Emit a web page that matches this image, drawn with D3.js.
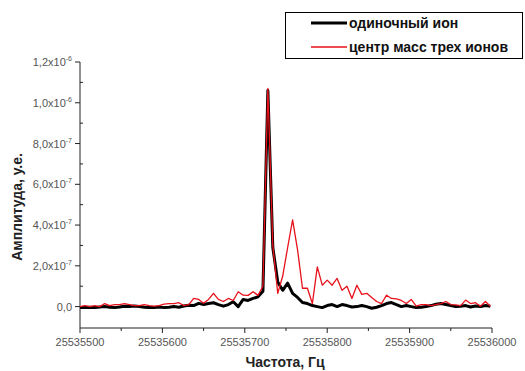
<!DOCTYPE html>
<html><head><meta charset="utf-8">
<script src="https://cdn.jsdelivr.net/npm/d3@7"></script>
<style>body{margin:0;background:#fff}svg{display:block}</style>
</head><body>
<svg id="c" width="525" height="371"></svg>
<script>
// Frequency, Hz
const freq = [25535500,25535506,25535512,25535518,25535524,25535530,25535536,25535542,25535548,25535554,
25535560,25535566,25535572,25535578,25535584,25535590,25535596,25535602,25535608,25535614,
25535620,25535626,25535632,25535638,25535644,25535650,25535656,25535662,25535668,25535674,
25535680,25535686,25535692,25535698,25535704,25535710,25535716,25535722,25535728,25535734,
25535740,25535746,25535752,25535758,25535764,25535770,25535776,25535782,25535788,25535794,
25535800,25535806,25535812,25535818,25535824,25535830,25535836,25535842,25535848,25535854,
25535860,25535866,25535872,25535878,25535884,25535890,25535896,25535902,25535908,25535914,
25535920,25535926,25535932,25535938,25535944,25535950,25535956,25535962,25535968,25535974,
25535980,25535986,25535992,25535998];
// amplitudes in units of 1e-7
const singleIon = [-0.05,-0.05,-0.03,-0.05,-0.02,0.0,-0.03,-0.05,-0.02,0.02,
0.0,0.03,0.0,-0.03,-0.05,-0.05,-0.02,-0.05,-0.03,0.0,
-0.03,0.03,0.07,0.05,0.16,0.1,0.15,0.19,0.1,0.02,
0.1,0.24,0.0,0.35,0.3,0.4,0.48,0.75,10.6,2.9,
1.2,0.8,1.15,0.65,0.45,0.2,0.15,0.05,0.0,-0.05,
0.05,0.1,0.0,0.1,0.05,-0.02,0.0,0.05,0.0,-0.08,
-0.03,0.05,0.15,0.2,0.1,0.0,0.05,0.0,-0.05,-0.03,
0.0,0.05,0.12,0.15,0.1,0.05,0.0,0.02,0.05,-0.02,
0.03,0.0,0.05,0.02];
const centerOfMass = [0.0,0.05,0.0,0.05,0.0,0.15,0.05,0.1,0.1,0.15,
0.1,0.05,0.05,0.1,0.05,0.02,0.05,0.12,0.15,0.15,
0.19,0.05,0.1,0.4,0.35,0.16,0.35,0.65,0.35,0.25,
0.4,0.3,0.73,0.56,0.55,0.73,0.55,1.0,10.7,3.0,
0.65,1.5,2.9,4.25,2.8,0.9,0.9,0.15,1.95,1.05,
1.3,1.05,1.38,0.8,1.0,0.4,1.05,0.6,0.65,0.45,
0.25,0.15,0.56,0.4,0.38,0.3,0.15,0.35,0.02,0.1,
0.1,0.05,0.1,0.15,0.25,0.1,0.08,0.05,0.32,0.15,
0.19,0.02,0.25,0.02];
const seriesNames = ["одиночный ион", "центр масс трех ионов"];
const xTicks = [25535500,25535600,25535700,25535800,25535900,25536000];
const yTicks = [0, 2e-7, 4e-7, 6e-7, 8e-7, 1.0e-6, 1.2e-6];
const yTickLabels = [["0,0",""],["2,0x10","-7"],["4,0x10","-7"],["6,0x10","-7"],["8,0x10","-7"],["1,0x10","-6"],["1,2x10","-6"]];
const xTitle = "Частота, Гц";
const yTitle = "Амплитуда, у.е.";

const svg = d3.select("#c");
const font = "'Liberation Sans', Arial, sans-serif";
const x = d3.scaleLinear().domain([25535500, 25536000]).range([80, 492]);
const y = d3.scaleLinear().domain([-1.05e-7, 1.2e-6]).range([328, 62]);

// y axis
const ya = svg.append("g").attr("transform", "translate(80,0)");
ya.append("line").attr("y1", y(1.2e-6)).attr("y2", 328).attr("stroke", "#222");
ya.selectAll(".maj").data(yTicks).enter().append("line")
  .attr("x1", -5).attr("x2", 0).attr("y1", d => y(d)).attr("y2", d => y(d)).attr("stroke", "#222");
ya.selectAll(".min").data(yTicks.slice(0, -1)).enter().append("line")
  .attr("x1", 0).attr("x2", 3).attr("y1", d => y(d + 1e-7)).attr("y2", d => y(d + 1e-7)).attr("stroke", "#222");
const yl = ya.selectAll(".lab").data(yTicks).enter().append("text")
  .attr("x", -8).attr("y", d => y(d) + 4).attr("text-anchor", "end")
  .attr("font-family", font).attr("font-size", 11).attr("fill", "#555");
yl.each(function(d, i) {
  const t = d3.select(this);
  t.append("tspan").text(yTickLabels[i][0]);
  if (yTickLabels[i][1]) t.append("tspan").attr("dy", -5).attr("font-size", 7).text(yTickLabels[i][1]);
});

// x axis
const xa = svg.append("g").attr("transform", "translate(0,328)");
xa.append("line").attr("x1", 80).attr("x2", x(25536000)).attr("stroke", "#222");
xa.selectAll(".maj").data(xTicks).enter().append("line")
  .attr("x1", d => x(d)).attr("x2", d => x(d)).attr("y1", 0).attr("y2", 5).attr("stroke", "#222");
xa.selectAll(".min").data(xTicks.slice(0, -1)).enter().append("line")
  .attr("x1", d => x(d + 50)).attr("x2", d => x(d + 50)).attr("y1", 0).attr("y2", 3).attr("stroke", "#222");
xa.selectAll(".lab").data(xTicks).enter().append("text")
  .attr("x", d => x(d)).attr("y", 18).attr("text-anchor", "middle")
  .attr("font-family", font).attr("font-size", 11).attr("fill", "#555").text(d => d);

// titles
svg.append("text").attr("x", 285).attr("y", 367).attr("text-anchor", "middle")
  .attr("font-family", font).attr("font-size", 14).attr("font-weight", "bold").attr("fill", "#222").text(xTitle);
svg.append("text").attr("transform", "translate(22,207) rotate(-90)").attr("text-anchor", "middle")
  .attr("font-family", font).attr("font-size", 14).attr("font-weight", "bold").attr("fill", "#222").text(yTitle);

// lines
const data = freq.map((f, i) => ({f, a: singleIon[i] * 1e-7, b: centerOfMass[i] * 1e-7}));
svg.append("path").datum(data).attr("fill", "none").attr("stroke", "#000").attr("stroke-width", 3)
  .attr("stroke-linejoin", "round")
  .attr("d", d3.line().x(d => x(d.f)).y(d => y(d.a)));
svg.append("path").datum(data).attr("fill", "none").attr("stroke", "#e8101a").attr("stroke-width", 1.3)
  .attr("stroke-linejoin", "round")
  .attr("d", d3.line().x(d => x(d.f)).y(d => y(d.b)));

// legend
const lg = svg.append("g");
lg.append("rect").attr("x", 285.5).attr("y", 12.5).attr("width", 237).attr("height", 46)
  .attr("fill", "#fff").attr("stroke", "#000");
const lc = ["#000", "#e8101a"], lw = [3, 1.3];
seriesNames.forEach((n, i) => {
  const yy = 23 + i * 24;
  lg.append("line").attr("x1", 311).attr("x2", 347).attr("y1", yy).attr("y2", yy)
    .attr("stroke", lc[i]).attr("stroke-width", lw[i]);
  lg.append("text").attr("x", 349).attr("y", yy + 5).attr("font-family", font).attr("font-size", 14)
    .attr("font-weight", "bold").attr("fill", "#111").text(n);
});
</script>
</body></html>
